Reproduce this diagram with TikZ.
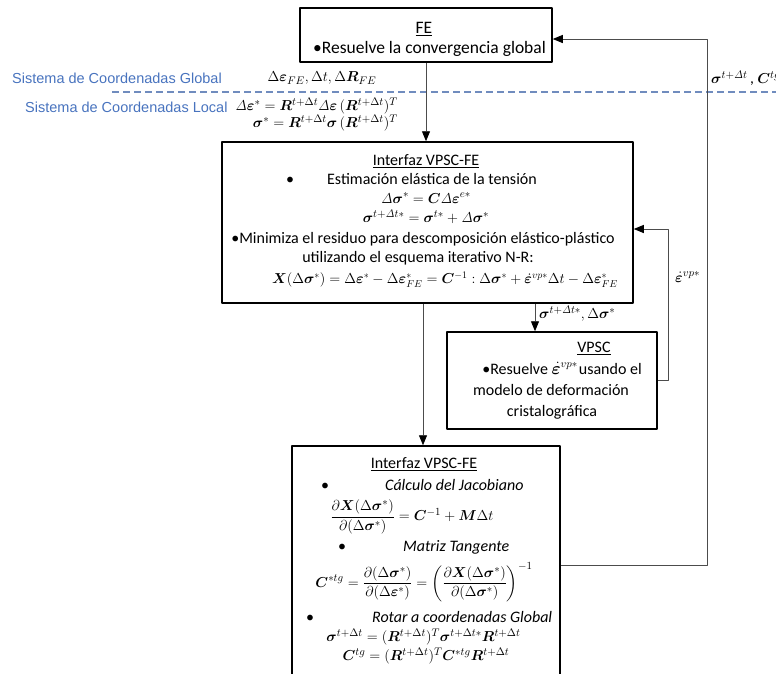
\documentclass[tikz,border=0pt]{standalone}
\usepackage{amsmath}
\usepackage{amssymb}
\usepackage{bm}
\usepackage[no-math]{fontspec}
\setmainfont{Carlito}
\newfontfamily\arialfont{Liberation Sans}
\usepackage{xcolor}
\usetikzlibrary{arrows.meta}
\definecolor{sysblue}{RGB}{72,115,190}
\definecolor{dashblue}{RGB}{112,140,190}

\begin{document}
\begin{tikzpicture}[x=1pt, y=-1pt, line join=round,
        blk/.style={draw=black, line width=1.5pt, inner sep=0pt},
        txt/.style={font=\fontsize{16}{19}\selectfont, inner sep=0pt, anchor=base},
        eqn/.style={font=\fontsize{14.5}{18}\selectfont, inner sep=0pt},
        sys/.style={font=\arialfont\fontsize{14.5}{17}\selectfont, text=sysblue, inner sep=0pt, anchor=west},
        conn/.style={draw=black!70, line width=0.9pt, -{Triangle[length=10pt,width=8pt,color=black]}}]

                        \useasboundingbox (0,0) rectangle (776,673);

                        % coordinate systems
                        \node[sys] (glob) at (12,78) {Sistema de Coordenadas Global};
                        \node[sys] (loc) at (25,107) {Sistema de Coordenadas Local};
                        \draw[dashblue, line width=1.1pt, dash pattern=on 7pt off 4pt] (112,92) -- (776,92);

                        % FE
                        \node[blk, minimum width=252pt, minimum height=54pt] (fe) at (426,35) {};
                        \node[txt, font=\fontsize{17.5}{20}\selectfont] (feT) at (424,33) {\underline{FE}};
                        \node[txt, font=\fontsize{17.5}{20}\selectfont] (feB) at (429.5,53) {\textbullet Resuelve la convergencia global};

                        % Interfaz VPSC-FE (1)
                        \node[blk, minimum width=411pt, minimum height=161pt] (ivf1) at (427.5,222.5) {};
                        \node[txt] (t1) at (426,165) {\underline{Interfaz VPSC-FE}};
                        \node[txt, anchor=base west] (b1) at (286,184) {\textbullet\hspace{33pt}Estimación elástica de la tensión};
                        \node[eqn, font=\fontsize{15.5}{18}\selectfont] (e1) at (426,198) {$\mathit{\Delta}\bm{\sigma}^{*} = \bm{C}\mathit{\Delta}\bm{\varepsilon}^{e*}$};
                        \node[eqn, font=\fontsize{15.5}{18}\selectfont] (e2) at (426,217) {$\bm{\sigma}^{t+\mathit{\Delta} t*} = \bm{\sigma}^{t*} + \mathit{\Delta}\bm{\sigma}^{*}$};
                        \node[txt] (m1) at (423,243) {\textbullet Minimiza el residuo para descomposición elástico-plástico};
                        \node[txt] (m2) at (418,262) {utilizando el esquema iterativo N-R:};
                        \node[eqn] (e3) at (445,280) {$\bm{X}(\Delta\bm{\sigma}^{*}) = \Delta\bm{\varepsilon}^{*} - \Delta\bm{\varepsilon}^{*}_{FE} = \bm{C}^{-1} : \Delta\bm{\sigma}^{*} + \dot{\bm{\varepsilon}}^{vp*}\Delta t - \Delta\bm{\varepsilon}^{*}_{FE}$};

                        % VPSC
                        \node[blk, minimum width=210pt, minimum height=97pt] (vpsc) at (552,380.5) {};
                        \node[txt] (v1) at (594,352) {\underline{VPSC}};
                        \node[txt] (v2) at (562,374) {\textbullet Resuelve $\dot{\bm{\varepsilon}}^{vp*}$\kern1pt usando el};
                        \node[txt] (v3) at (551,395) {modelo de deformación};
                        \node[txt] (v4) at (552,416) {cristalográfica};

                        % Interfaz VPSC-FE (2)
                        \node[blk, minimum width=268pt, minimum height=238pt] (ivf2) at (426,565) {};
                        \node[txt] (t2) at (424,468) {\underline{Interfaz VPSC-FE}};
                        \node[txt, anchor=base west] (c1) at (321,490) {\textbullet\hspace{56pt}\textit{Cálculo del Jacobiano}};
                        \node[eqn, font=\fontsize{15}{18}\selectfont] (f1) at (412,517) {$\dfrac{\partial\bm{X}(\Delta\bm{\sigma}^{*})}{\partial(\Delta\bm{\sigma}^{*})} = \bm{C}^{-1} + \bm{M}\Delta t$};
                        \node[txt, anchor=base west] (c2) at (338,551) {\textbullet\hspace{57pt}\textit{Matriz Tangente}};
                        \node[eqn, font=\fontsize{15}{18}\selectfont] (f2) at (424,582) {$\bm{C}^{*tg} = \dfrac{\partial(\Delta\bm{\sigma}^{*})}{\partial(\Delta\bm{\varepsilon}^{*})} = \left(\dfrac{\partial\bm{X}(\Delta\bm{\sigma}^{*})}{\partial(\Delta\bm{\sigma}^{*})}\right)^{-1}$};
                        \node[txt, anchor=base west] (c3) at (306,622) {\textbullet\hspace{58pt}\textit{Rotar a coordenadas Global}};
                        \node[eqn, font=\fontsize{15}{18}\selectfont] (f3) at (423.5,637) {$\bm{\sigma}^{t+\Delta t} = (\bm{R}^{t+\Delta t})^{T}\bm{\sigma}^{t+\Delta t*}\bm{R}^{t+\Delta t}$};
                        \node[eqn, font=\fontsize{15}{18}\selectfont] (f4) at (426,656) {$\bm{C}^{tg} = (\bm{R}^{t+\Delta t})^{T}\bm{C}^{*tg}\bm{R}^{t+\Delta t}$};

                        % labels
                        \node[eqn, font=\fontsize{15}{18}\selectfont] (lfe) at (322,78) {$\Delta\bm{\varepsilon}_{FE}, \Delta t, \Delta\bm{R}_{FE}$};
                        \node[eqn, font=\fontsize{15.5}{18}\selectfont, anchor=east] (lr1) at (398,106) {$\mathit{\Delta}\bm{\varepsilon}^{*} = \bm{R}^{t+\Delta t}\mathit{\Delta}\bm{\varepsilon}\,(\bm{R}^{t+\Delta t})^{T}$};
                        \node[eqn, font=\fontsize{15.5}{18}\selectfont, anchor=east] (lr2) at (398,123) {$\bm{\sigma}^{*} = \bm{R}^{t+\Delta t}\bm{\sigma}\,(\bm{R}^{t+\Delta t})^{T}$};
                        \node[eqn, font=\fontsize{15.5}{18}\selectfont, anchor=west] (lsig) at (539,314) {$\bm{\sigma}^{t+\mathit{\Delta} t*}, \Delta\bm{\sigma}^{*}$};
                        \node[eqn, font=\fontsize{15.5}{18}\selectfont, anchor=west] (leps) at (675,277) {$\dot{\bm{\varepsilon}}^{vp*}$};
                        \node[eqn, font=\fontsize{15.5}{18}\selectfont, anchor=west] (lout) at (711,78) {$\bm{\sigma}^{t+\mathit{\Delta} t}$\,, $\bm{C}^{tg}$};

                        \coordinate (ret1) at (668,229);
                        \coordinate (ret2) at (707,39);

                        \begin{scope}
                            % down the chain
                            \draw[conn] (fe.south) -- (fe.south |- ivf1.north);
                            \draw[conn] ([xshift=-17pt]vpsc.north |- ivf1.south) -- ([xshift=-17pt]vpsc.north);
                            \draw[conn] ([xshift=-3pt]ivf2.north |- ivf1.south) -- ([xshift=-3pt]ivf2.north);
                            % back up
                            \draw[conn] (vpsc.east) -| (ret1) -- (ret1 -| ivf1.east);
                            \draw[conn] (ivf2.east) -| (ret2) -- (ret2 -| fe.east);
                        \end{scope}

                    \end{tikzpicture}
\end{document}
